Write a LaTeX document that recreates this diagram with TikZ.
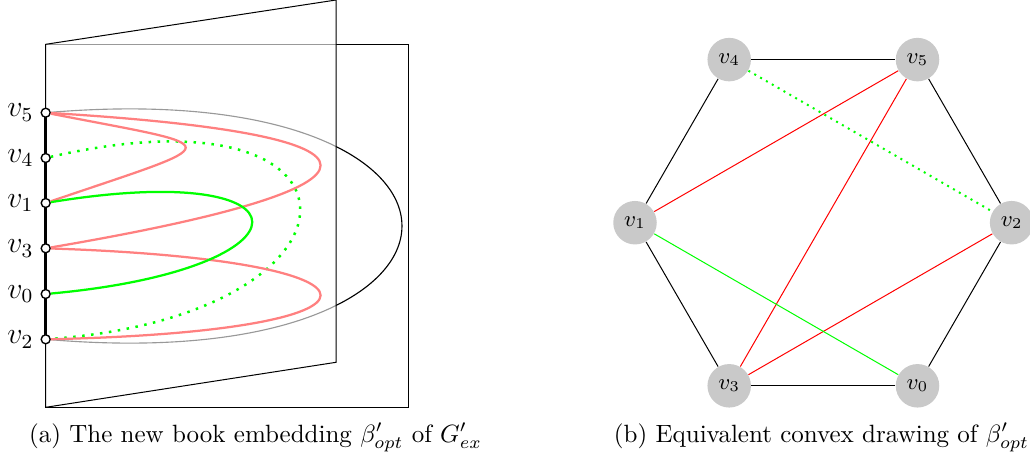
\documentclass[tikz,border=0pt]{standalone}
\pgfdeclarelayer{back}
\pgfsetlayers{back,main}
\tikzset{
  vtx/.style={circle,draw=black,fill=white,inner sep=0pt,minimum size=3.6pt,line width=0.55pt},
  lbl/.style={font=\large,anchor=east,inner sep=0pt},
  pageback/.style={draw=black,line width=0.4pt},
  pagefront/.style={fill=white,fill opacity=0.6,draw=black,line width=0.4pt},
  spine/.style={line width=1pt},
  backarc/.style={black,line width=0.45pt},
  redcurve/.style={red!50,line width=0.9pt},
  greencurve/.style={green,line width=0.9pt},
  greendot/.style={green,line width=1pt,dash pattern=on 1pt off 2.6pt},
  gnode/.style={circle,fill=black!21,inner sep=0pt,minimum size=17.4pt,font=\small},
  hexe/.style={black,line width=0.4pt},
  redch/.style={red,line width=0.4pt},
  greench/.style={green,line width=0.4pt},
  greendotch/.style={green,line width=0.8pt,dash pattern=on 0.8pt off 1.9pt},
  captext/.style={anchor=base,inner sep=0pt},
}
\begin{document}
\begin{tikzpicture}[x=0.4pt,y=-0.4pt]
\useasboundingbox (0,0) rectangle (1030,454);
% ---------- (a) book embedding ----------
\node[vtx] (a5) at (45.7,112.7) {};
\node[vtx] (a4) at (45.7,158) {};
\node[vtx] (a1) at (45.7,203) {};
\node[vtx] (a3) at (45.7,248.3) {};
\node[vtx] (a0) at (45.7,294) {};
\node[vtx] (a2) at (45.7,339.3) {};
\node[lbl] (l5) at (34,112.7) {$v_5$};
\node[lbl] (l4) at (34,158) {$v_4$};
\node[lbl] (l1) at (34,203) {$v_1$};
\node[lbl] (l3) at (34,248.3) {$v_3$};
\node[lbl] (l0) at (34,294) {$v_0$};
\node[lbl] (l2) at (34,339.3) {$v_2$};
\begin{pgfonlayer}{back}
  % back page
  \draw[pageback] (45.7,44.3) rectangle (408.7,407.3);
  % edge on back page
  \draw[backarc] (a5) .. controls (519,73.7) and (519,378.3) .. (a2);
  % front page, half transparent
  \draw[pagefront] (45.7,44.3) -- (336,0) -- (336,362.3) -- (45.7,407.3) -- cycle;
  % spine
  \draw[spine] (a5.center) -- (a2.center);
\end{pgfonlayer}
% edges on front page
\draw[greendot] (a4) .. controls (383.4,80) and (383.4,314.3) .. (a2);
\draw[redcurve] (a5) .. controls (230.7,148.7) and (230.7,140) .. (a1);
\draw[redcurve] (a5) .. controls (410.5,134.7) and (410.5,186.3) .. (a3);
\draw[redcurve] (a3) .. controls (410.5,260.3) and (410.5,331.3) .. (a2);
\draw[greencurve] (a1) .. controls (319.4,158) and (319.4,269) .. (a0);
\node[captext] (capa) at (255.5,442) {(a) The new book embedding $\beta'_{opt}$ of $G'_{ex}$};
% ---------- (b) convex drawing ----------
\node[gnode] (b4) at (729.2,59.6) {$v_4$};
\node[gnode] (b5) at (917.5,59.6) {$v_5$};
\node[gnode] (b1) at (635,222.7) {$v_1$};
\node[gnode] (b2) at (1011.6,222.7) {$v_2$};
\node[gnode] (b3) at (729.2,385.8) {$v_3$};
\node[gnode] (b0) at (917.5,385.8) {$v_0$};
\draw[hexe] (b4) -- (b5);
\draw[hexe] (b5) -- (b2);
\draw[hexe] (b2) -- (b0);
\draw[hexe] (b0) -- (b3);
\draw[hexe] (b3) -- (b1);
\draw[hexe] (b1) -- (b4);
\draw[redch] (b1) -- (b5);
\draw[redch] (b5) -- (b3);
\draw[redch] (b3) -- (b2);
\draw[greench] (b1) -- (b0);
\draw[greendotch] (b4) -- (b2);
\node[captext] (capb) at (821.5,442) {(b) Equivalent convex drawing of $\beta'_{opt}$};
\end{tikzpicture}
\end{document}
